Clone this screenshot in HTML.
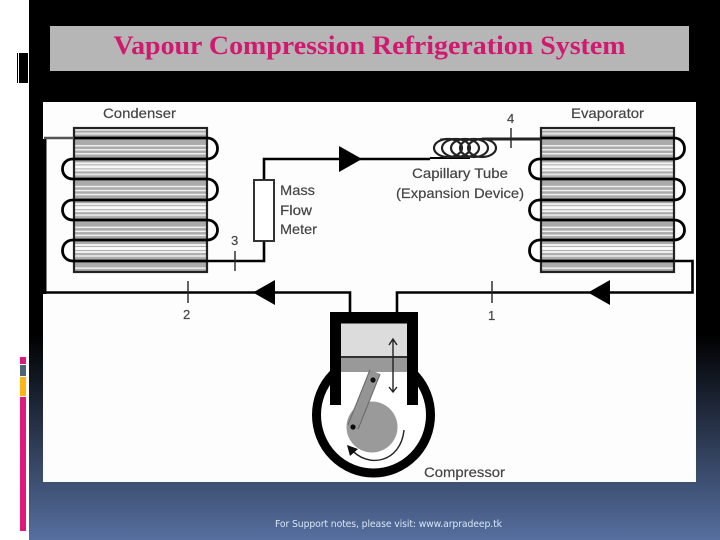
<!DOCTYPE html>
<html><head><meta charset="utf-8"><style>
html,body{margin:0;padding:0;background:#fff}
body{width:720px;height:540px;overflow:hidden}
svg{display:block}
</style></head><body>
<svg width="720" height="540" viewBox="0 0 720 540" xmlns="http://www.w3.org/2000/svg">
<defs>
<linearGradient id="bg" x1="0" y1="0" x2="0" y2="1"><stop offset="0" stop-color="#000"/><stop offset=".62" stop-color="#000"/><stop offset="1" stop-color="#566f9f"/></linearGradient>
<pattern id="st" width="10" height="40.8" patternUnits="userSpaceOnUse" patternTransform="translate(0 138)">
<rect width="10" height="40.8" fill="#aaa"/>
<rect y="7" width="10" height="1.5" fill="#f0f0f0"/><rect y="11" width="10" height="1.5" fill="#f0f0f0"/><rect y="15" width="10" height="1.5" fill="#f0f0f0"/>
<rect y="24.4" width="10" height="2" fill="#f2f2f2"/><rect y="27.4" width="10" height="3" fill="#fafafa"/><rect y="31.4" width="10" height="2" fill="#f2f2f2"/><rect y="35.4" width="10" height="2" fill="#e2e2e2"/>
</pattern>
<filter id="b" x="-5%" y="-5%" width="110%" height="110%"><feGaussianBlur stdDeviation=".35"/></filter>
<g id="coil">
<rect x="74" y="128" width="133" height="144" fill="url(#st)"/>
<rect x="74" y="128" width="133" height="144" fill="none" stroke="#222" stroke-width="2.2"/>
<path fill="none" stroke="#000" stroke-width="2.8" d="M73 138H207C221 138 221 159 207 159H73C59 159 59 179 73 179H207C221 179 221 200 207 200H73C59 200 59 220 73 220H207C221 220 221 240 207 240H73C59 240 59 261 73 261H207"/>
</g>
</defs>
<rect x="29" width="691" height="540" fill="url(#bg)"/>
<rect x="50" y="26" width="639" height="45" fill="#b6b6b6"/>
<rect x="17" y="53" width="1" height="30" fill="#000"/><rect x="19" y="53" width="9" height="30" fill="#000"/>
<rect x="20" y="357" width="6" height="7" fill="#e0187c"/>
<rect x="20" y="365" width="6" height="11" fill="#4f6377"/>
<rect x="20" y="377" width="6" height="19" fill="#fdb515"/>
<rect x="20" y="397" width="6" height="134" fill="#e0187c"/>
<text x="369.5" y="54" text-anchor="middle" font-family="Liberation Serif, serif" font-size="26" font-weight="bold" fill="#cf1a6f" textLength="512" lengthAdjust="spacingAndGlyphs">Vapour Compression Refrigeration System</text>
<rect x="43" y="102" width="653" height="380" fill="#fdfdfd"/>
<rect x="43" y="139" width="3.5" height="155" fill="#000"/>
<g filter="url(#b)">
<use href="#coil"/>
<use href="#coil" x="467"/>
<g fill="none" stroke="#000" stroke-width="2.6">
<path d="M74 138H44" stroke="#555"/>
<path d="M45 292.5H350V314"/>
<path d="M207 261H264V159H430"/>
<path d="M397 314V292.5H692.5V261H675"/>
<path d="M440 139H482" stroke="#777" stroke-width="1.6"/>
<path d="M482 139H541" stroke-width="3" stroke="#222"/>
<path d="M430 158H470" stroke-width="2"/>
</g>
<rect x="254" y="180" width="20" height="61" fill="#fff" stroke="#333" stroke-width="2"/>
<path d="M339 146L362 159L339 172Z M275 280L253 292.5L275 305Z M610 280L588 292.5L610 305Z" fill="#000"/>
<g fill="none" stroke="#222" stroke-width="2.2">
<ellipse cx="448" cy="148" rx="14" ry="9"/><ellipse cx="456" cy="148" rx="14" ry="9"/><ellipse cx="465" cy="148" rx="14" ry="9"/><ellipse cx="474" cy="148" rx="14" ry="9"/><ellipse cx="482" cy="148" rx="14" ry="9"/>
</g>
<path d="M511 128V148M235 251V271M188 281V303M492 281V303" fill="none" stroke="#222" stroke-width="1.4"/>
<ellipse cx="373.5" cy="415" rx="57" ry="58" fill="#fff" stroke="#000" stroke-width="9"/>
<rect x="341" y="324" width="66" height="90" fill="#fff"/>
<rect x="330" y="312" width="88" height="11.5" fill="#000"/>
<rect x="330" y="312" width="11" height="93" fill="#000"/>
<rect x="407" y="312" width="11" height="93" fill="#000"/>
<rect x="341" y="323.5" width="66" height="33" fill="#dcdcdc"/>
<rect x="341" y="357" width="66" height="15" fill="#999"/>
<rect x="341" y="356" width="66" height="2" fill="#333"/>
<circle cx="372" cy="427" r="25.5" fill="#9a9a9a"/>
<path d="M375 372L353 427" stroke="#666" stroke-width="12"/>
<path d="M375 372L353 427" stroke="#949494" stroke-width="10"/>
<circle cx="373" cy="380" r="2.6" fill="#111"/><circle cx="353" cy="427" r="2.6" fill="#111"/>
<path d="M393 339V392M389 345L393 339L397 345M389 387L393 392L397 387" fill="none" stroke="#222" stroke-width="1.4"/>
<path d="M404 430C401 462 368 470 350 448" fill="none" stroke="#222" stroke-width="1.4"/>
<path d="M347 445L358 449L350 456Z" fill="#111"/>
<g font-family="Liberation Sans, sans-serif" font-size="14" fill="#444" stroke="#444" stroke-width=".2">
<text x="103" y="118" textLength="73" lengthAdjust="spacingAndGlyphs">Condenser</text>
<text x="571" y="118" textLength="73" lengthAdjust="spacingAndGlyphs">Evaporator</text>
<text x="280" y="195" textLength="35" lengthAdjust="spacingAndGlyphs">Mass</text><text x="280" y="215" textLength="32" lengthAdjust="spacingAndGlyphs">Flow</text><text x="280" y="234" textLength="37" lengthAdjust="spacingAndGlyphs">Meter</text>
<text x="412" y="178" textLength="96" lengthAdjust="spacingAndGlyphs">Capillary Tube</text>
<text x="396" y="198" textLength="128" lengthAdjust="spacingAndGlyphs">(Expansion Device)</text>
<text x="424" y="477" textLength="81" lengthAdjust="spacingAndGlyphs">Compressor</text>
<text x="507" y="123" font-size="13">4</text><text x="231" y="245" font-size="13">3</text><text x="183" y="319" font-size="13">2</text><text x="488" y="320" font-size="13">1</text>
</g>
</g>
<text x="275" y="527" font-family="DejaVu Sans, sans-serif" font-size="9.3" fill="#d8e6f5" textLength="227" lengthAdjust="spacing">For Support notes, please visit: www.arpradeep.tk</text>
</svg>
</body></html>
